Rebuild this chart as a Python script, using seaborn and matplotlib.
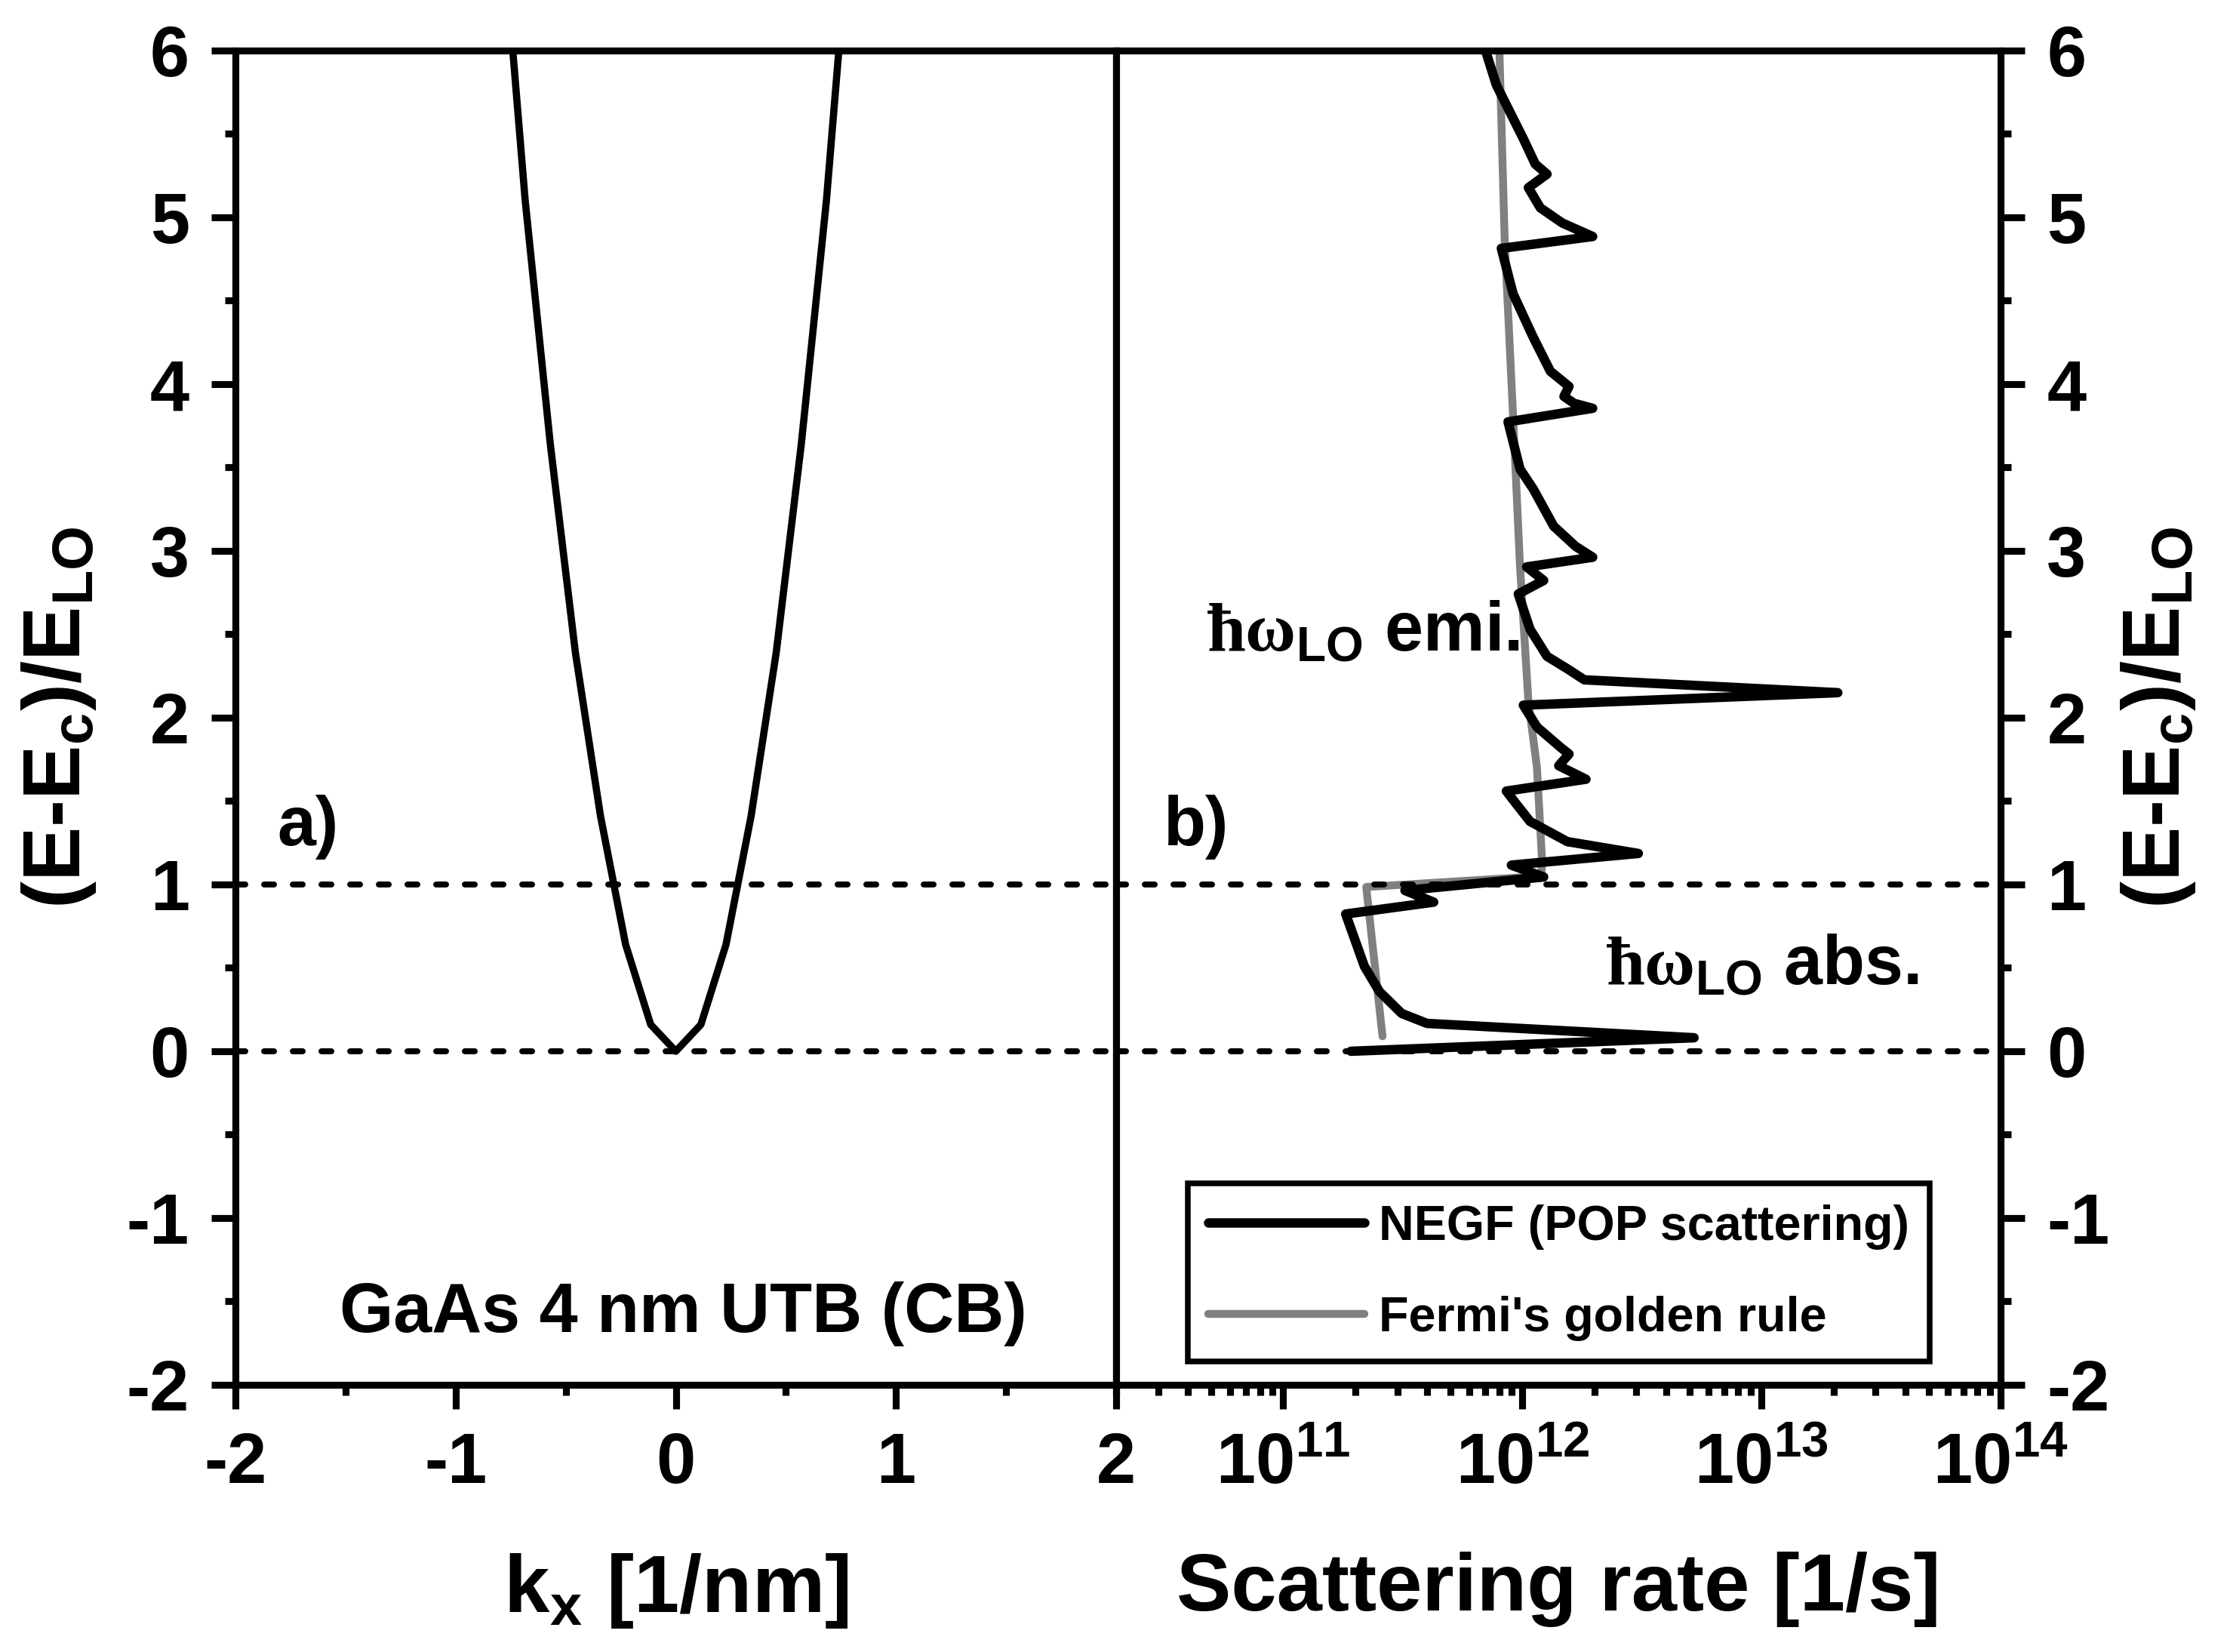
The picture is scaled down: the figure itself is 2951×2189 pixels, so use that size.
import numpy as np
import pandas as pd
import matplotlib
matplotlib.use("Agg")
import matplotlib.pyplot as plt
import matplotlib.ticker as mticker
import seaborn as sns

# ---------------- data ----------------
# panel a) : band dispersion
k_x = [-0.80, -0.684, -0.570, -0.456, -0.342, -0.228, -0.114, 0.0,
       0.114, 0.228, 0.342, 0.456, 0.570, 0.684, 0.80]
E_band = [6.95, 5.10, 3.64, 2.39, 1.41, 0.64, 0.16, 0.0,
          0.16, 0.64, 1.41, 2.39, 3.64, 5.10, 6.95]

# panel b) : NEGF scattering rate (log10 of rate [1/s]) vs energy
negf_log_rate = [11.824, 11.891, 12.004, 12.054, 12.103, 12.025, 12.075, 12.167, 12.294,
                 11.912, 11.961, 12.046, 12.117, 12.195, 12.174, 12.216, 12.294,
                 11.940, 11.990, 12.046, 12.131, 12.223, 12.294,
                 12.018, 12.089, 11.983, 12.032, 12.103, 12.195, 12.259, 13.319,
                 12.004, 12.061, 12.159, 12.195, 12.152, 12.266,
                 11.933, 11.976, 12.032, 12.188, 12.485,
                 11.954, 12.089, 11.509, 11.629, 11.261,
                 11.339, 11.402, 11.495, 11.601, 12.718, 11.283]
negf_E = [6.10, 5.794, 5.471, 5.319, 5.259, 5.178, 5.057, 4.966, 4.885,
          4.814, 4.542, 4.279, 4.077, 3.986, 3.926, 3.885, 3.855,
          3.774, 3.491, 3.370, 3.148, 3.027, 2.962,
          2.904, 2.823, 2.742, 2.530, 2.368, 2.287, 2.227, 2.150,
          2.075, 1.944, 1.823, 1.782, 1.712, 1.631,
          1.560, 1.480, 1.378, 1.257, 1.186,
          1.116, 1.045, 0.964, 0.894, 0.823,
          0.510, 0.358, 0.227, 0.167, 0.081, 0.0]

# Fermi's golden rule
fgr_log_rate = [11.902, 11.926, 11.961, 11.990, 12.025, 12.061, 12.082, 12.080, 11.347, 11.415]
fgr_E = [6.10, 4.86, 3.81, 2.91, 2.10, 1.70, 1.15, 1.05, 0.985, 0.09]

ref_levels = [0.0, 1.0]
y_ticks = [-2, -1, 0, 1, 2, 3, 4, 5, 6]
kx_ticks = [-2, -1, 0, 1, 2]
rate_ticks = [1e11, 1e12, 1e13, 1e14]

label_negf = "NEGF (POP scattering)"
label_fgr = "Fermi's golden rule"

# ---------------- style ----------------
sns.set_theme(style="ticks")
rc = plt.rcParams
rc["font.family"] = ["Liberation Sans", "DejaVu Sans"]
rc["font.weight"] = "bold"
rc["axes.unicode_minus"] = False
rc["text.color"] = "black"
rc["axes.labelcolor"] = "black"
rc["xtick.color"] = "black"
rc["ytick.color"] = "black"
rc["axes.edgecolor"] = "black"
rc["mathtext.fontset"] = "custom"
rc["mathtext.rm"] = "Liberation Sans:bold"
rc["mathtext.bf"] = "Liberation Sans:bold"
rc["mathtext.it"] = "Liberation Sans:bold"
rc["mathtext.sf"] = "Liberation Serif"
rc["mathtext.default"] = "bf"

df_band = pd.DataFrame({"k": k_x, "E": E_band})
df_negf = pd.DataFrame({"rate": np.power(10.0, negf_log_rate), "E": negf_E})
df_fgr = pd.DataFrame({"rate": np.power(10.0, fgr_log_rate), "E": fgr_E})

fig = plt.figure(figsize=(2951 / 300, 2189 / 300), dpi=300)
ax1 = fig.add_axes([0.10573, 0.16172, 0.39546, 0.80768])
ax2 = fig.add_axes([0.50119, 0.16172, 0.39715, 0.80768])

# ---------------- panel a ----------------
sns.lineplot(data=df_band, x="k", y="E", sort=False, estimator=None,
             color="black", lw=2.3, ax=ax1)

# ---------------- panel b ----------------
ax2.set_xscale("log")
sns.lineplot(data=df_fgr, x="rate", y="E", sort=False, estimator=None,
             color="#808080", lw=2.5, ax=ax2, label=label_fgr, zorder=2)
sns.lineplot(data=df_negf, x="rate", y="E", sort=False, estimator=None,
             color="black", lw=3.0, ax=ax2, label=label_negf, zorder=3)

for ax in (ax1, ax2):
    for lvl in ref_levels:
        ax.axhline(lvl, color="black", lw=1.9, linestyle=(0, (1.65, 3.15)),
                   dash_capstyle="round", zorder=4)

# axes limits & ticks
ax1.set_xlim(-2, 2)
ax2.set_xlim(2e10, 1e14)
for ax in (ax1, ax2):
    ax.set_ylim(-2, 6)
    ax.set_yticks(y_ticks)
    ax.yaxis.set_minor_locator(mticker.MultipleLocator(0.5))
    for sp in ax.spines.values():
        sp.set_linewidth(2.2)
        sp.set_color("black")
    ax.tick_params(which="both", direction="out", color="black", width=2.2,
                   top=False, labelcolor="black")
    ax.tick_params(which="major", length=7.7, labelsize=22.5, pad=7)
    ax.tick_params(which="minor", length=3.4)

ax1.set_xticks(kx_ticks)
ax1.xaxis.set_minor_locator(mticker.MultipleLocator(0.5))
ax1.tick_params(axis="y", which="both", left=True, right=False)

ax2.set_xticks(rate_ticks)
ax2.xaxis.set_major_formatter(mticker.FuncFormatter(
    lambda v, p: r"$10^{%d}$" % int(round(np.log10(v)))))
ax2.xaxis.set_minor_locator(mticker.LogLocator(base=10, subs=np.arange(2, 10), numticks=20))
ax2.xaxis.set_minor_formatter(mticker.NullFormatter())
ax2.tick_params(axis="y", which="both", left=False, right=True,
                labelleft=False, labelright=True)
ax2.yaxis.set_label_position("right")

ylab = r"(E-E$_{\mathbf{c}}$)/E$_{\mathbf{LO}}$"
ax1.set_ylabel(ylab, fontsize=26, fontweight="bold", labelpad=9)
ax2.set_ylabel(ylab, fontsize=26, fontweight="bold", labelpad=3, rotation=90)
ax1.set_xlabel(r"k$_{\mathbf{x}}$ [1/nm]", fontsize=26, fontweight="bold", labelpad=17)
ax2.set_xlabel("Scattering rate [1/s]", fontsize=26, fontweight="bold", labelpad=17)

# annotations
ax1.text(-1.81, 1.235, "a)", fontsize=22, fontweight="bold", ha="left", va="baseline")
ax1.text(0.035, -1.683, "GaAs 4 nm UTB (CB)", fontsize=22, fontweight="bold",
         ha="center", va="baseline")
ax2.text(10 ** 10.50, 1.235, "b)", fontsize=22, fontweight="bold", ha="left", va="baseline")
ax2.text(10 ** 10.68, 2.40, r"$\mathsf{\hbar\omega}_{\mathbf{LO}}$ emi.", fontsize=22,
         fontweight="bold", ha="left", va="baseline")
ax2.text(10 ** 12.348, 0.40, r"$\mathsf{\hbar\omega}_{\mathbf{LO}}$ abs.", fontsize=22,
         fontweight="bold", ha="left", va="baseline")

# legend
h, l = ax2.get_legend_handles_labels()
order = [l.index(label_negf), l.index(label_fgr)]
leg = ax2.legend([h[i] for i in order], [l[i] for i in order],
                 loc="lower left", bbox_to_anchor=(0.081, 0.0175),
                 frameon=True, fancybox=False, edgecolor="black", framealpha=1,
                 prop={"size": 15.5, "weight": "bold"},
                 handlelength=3.2, handletextpad=0.3, labelspacing=0.95,
                 borderpad=0.42, borderaxespad=0)
leg.get_frame().set_linewidth(1.8)

fig.savefig("out.png", dpi=300)
